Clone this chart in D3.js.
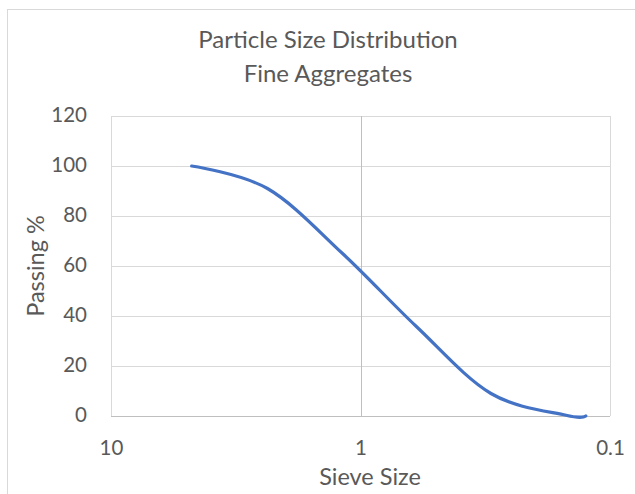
<!DOCTYPE html>
<html>
<head>
<meta charset="utf-8">
<script src="https://cdn.jsdelivr.net/npm/d3@7"></script>
<style>
  html, body { margin: 0; padding: 0; background: #fff; }
  svg { display: block; }
  text { font-family: Lato, "Open Sans", sans-serif; fill: #595959; }
</style>
</head>
<body>
<svg id="chart" width="635" height="494"></svg>
<script>
// Sieve sizes (mm) and cumulative percent passing
const sieveSizes = [4.75, 2.36, 1.18, 0.6, 0.3, 0.15, 0.125];
const passing    = [100, 91, 65, 36, 9, 0.3, 0];

const xTicks = [10, 1, 0.1];
const yTicks = [0, 20, 40, 60, 80, 100, 120];
const xTickLabels = ["10", "1", "0.1"];

const titleLines = ["Particle Size Distribution", "Fine Aggregates"];
const xTitle = "Sieve Size";
const yTitle = "Passing %";

const svg = d3.select("#chart");

// chart area frame (continues past the right and bottom edges)
svg.append("rect")
  .attr("x", 7.5).attr("y", 9.5)
  .attr("width", 700).attr("height", 600)
  .attr("fill", "#fff")
  .attr("stroke", "#d9d9d9")
  .attr("stroke-width", 1);

const plot = { left: 111, right: 610, top: 116, bottom: 416 };

// reversed log axis: coarse sieves on the left
const x = d3.scaleLog().domain([10, 0.1]).range([plot.left, plot.right]);
const y = d3.scaleLinear().domain([0, 120]).range([plot.bottom, plot.top]);

// horizontal gridlines
svg.append("g")
  .selectAll("line")
  .data(yTicks.filter(d => d !== 0))
  .join("line")
  .attr("x1", plot.left).attr("x2", plot.right)
  .attr("y1", d => Math.round(y(d)) + 0.5)
  .attr("y2", d => Math.round(y(d)) + 0.5)
  .attr("stroke", "#d9d9d9").attr("stroke-width", 1);

// vertical gridlines at each decade; the one at 1 is the value-axis crossing
svg.append("g")
  .selectAll("line")
  .data(xTicks)
  .join("line")
  .attr("x1", d => Math.round(x(d)) + 0.5)
  .attr("x2", d => Math.round(x(d)) + 0.5)
  .attr("y1", plot.top).attr("y2", plot.bottom)
  .attr("stroke", d => d === 1 ? "#bfbfbf" : "#d9d9d9")
  .attr("stroke-width", 1);

// category axis line at 0
svg.append("line")
  .attr("x1", plot.left).attr("x2", plot.right)
  .attr("y1", Math.round(y(0)) + 0.5).attr("y2", Math.round(y(0)) + 0.5)
  .attr("stroke", "#bfbfbf").attr("stroke-width", 1);

// y tick labels
const yAxis = d3.axisLeft(y).tickValues(yTicks).tickSize(0).tickPadding(0);
const gy = svg.append("g").attr("transform", `translate(87,0)`).call(yAxis);
gy.select(".domain").remove();
gy.selectAll("text")
  .attr("x", 0).attr("dy", "0.32em")
  .attr("transform", "translate(0,-1.5)")
  .style("font-size", "20.5px")
  .style("font-family", "Lato, sans-serif")
  .attr("fill", "#595959");

// x tick labels
const xAxis = d3.axisBottom(x).tickValues(xTicks)
  .tickFormat((d, i) => xTickLabels[i]).tickSize(0).tickPadding(0);
const gx = svg.append("g").attr("transform", `translate(0,455)`).call(xAxis);
gx.select(".domain").remove();
gx.selectAll("text")
  .attr("y", 0).attr("dy", 0)
  .style("font-size", "20.5px")
  .style("font-family", "Lato, sans-serif")
  .attr("fill", "#595959");

// grading curve
const pts = sieveSizes.map((s, i) => [s, passing[i]]);
const line = d3.line()
  .x(d => x(d[0]))
  .y(d => y(d[1]))
  .curve(d3.curveCardinal.tension(0));

svg.append("path")
  .datum(pts)
  .attr("d", line)
  .attr("fill", "none")
  .attr("stroke", "#4472c4")
  .attr("stroke-width", 3.2)
  .attr("stroke-linecap", "round")
  .attr("stroke-linejoin", "round");

// title
svg.append("g").selectAll("text")
  .data(titleLines)
  .join("text")
  .attr("x", 328)
  .attr("y", (d, i) => 48 + i * 34)
  .attr("text-anchor", "middle")
  .style("font-size", "24px")
  .text(d => d);

// axis titles
svg.append("text")
  .attr("x", 370).attr("y", 485)
  .attr("text-anchor", "middle")
  .style("font-size", "23.5px")
  .text(xTitle);

svg.append("text")
  .attr("transform", "translate(44,266) rotate(-90)")
  .attr("text-anchor", "middle")
  .style("font-size", "23.5px")
  .text(yTitle);
</script>
</body>
</html>
